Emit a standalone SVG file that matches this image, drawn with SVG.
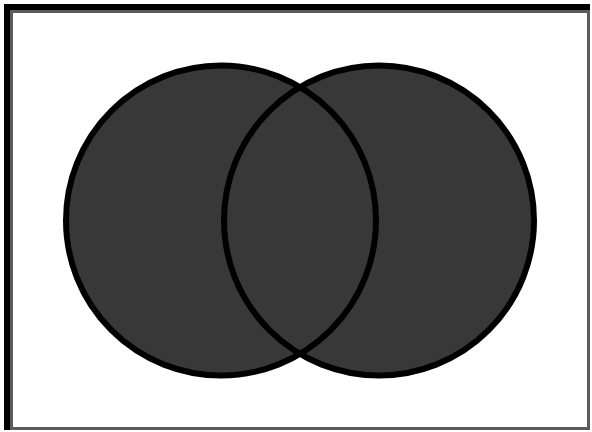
<svg xmlns="http://www.w3.org/2000/svg" width="592" height="432" viewBox="0 0 592 432">
<style>
.fill{fill:#383838;stroke:none}
.edge{fill:none;stroke:#000;stroke-width:6}
</style>
<rect x="0" y="0" width="592" height="432" fill="#fff"/>
<g id="frame">
<rect x="11.5" y="11.5" width="577" height="417" fill="#fff" stroke="#5c5c5c" stroke-width="3"/>
<rect x="4" y="4" width="586" height="6" fill="#000"/>
<rect x="4" y="4" width="6" height="426" fill="#000"/>
</g>
<g id="setA"><circle class="fill" cx="221" cy="220.5" r="155"/></g>
<g id="setB"><circle class="fill" cx="379" cy="220.5" r="155"/></g>
<g id="outlines">
<circle class="edge" cx="221" cy="220.5" r="155"/>
<circle class="edge" cx="379" cy="220.5" r="155"/>
</g>
</svg>
